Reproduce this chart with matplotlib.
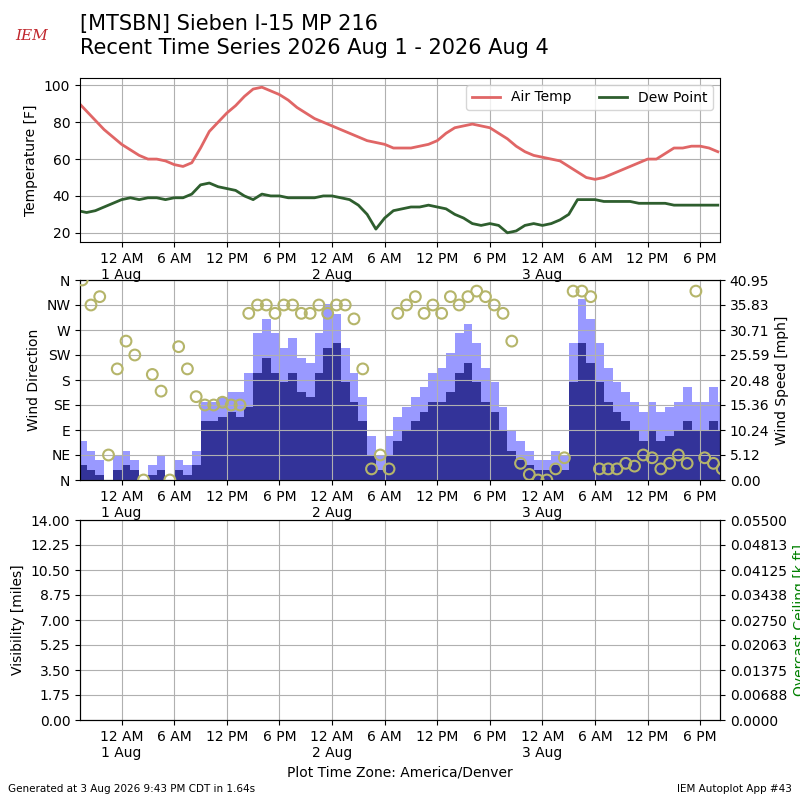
import matplotlib
matplotlib.use("Agg")
import matplotlib.pyplot as plt
import matplotlib.dates as mdates
import numpy as np
import pandas as pd

# hourly observations starting 31 Jul 19:00 (America/Denver)
start = "2026-07-31 19:00"
air_temp = [91, 86, 81, 76, 72, 68, 65, 62, 60, 60, 59, 57, 56, 58, 66, 75, 80, 85, 89, 94,
            98, 99, 97, 95, 92, 88, 85, 82, 80, 78, 76, 74, 72, 70, 69, 68, 66, 66, 66, 67,
            68, 70, 74, 77, 78, 79, 78, 77, 74, 71, 67, 64, 62, 61, 60, 59, 56, 53, 50, 49,
            50, 52, 54, 56, 58, 60, 60, 63, 66, 66, 67, 67, 66, 64]
dew_point = [32, 31, 32, 34, 36, 38, 39, 38, 39, 39, 38, 39, 39, 41, 46, 47, 45, 44, 43, 40,
             38, 41, 40, 40, 39, 39, 39, 39, 40, 40, 39, 38, 35, 30, 22, 28, 32, 33, 34, 34,
             35, 34, 33, 30, 28, 25, 24, 25, 24, 20, 21, 24, 25, 24, 25, 27, 30, 38, 38, 38,
             37, 37, 37, 37, 36, 36, 36, 36, 35, 35, 35, 35, 35, 35]
wind_speed = [3, 2, 1, 0, 2, 3, 2, 0, 1, 2, 0, 2, 1, 3, 12, 12, 13, 14, 13, 15,
              22, 25, 22, 20, 22, 18, 17, 22, 27, 28, 20, 16, 12, 5, 2, 5, 8, 10, 12, 14,
              16, 16, 18, 22, 24, 20, 16, 14, 10, 6, 4, 3, 2, 2, 3, 2, 20, 28, 24, 20,
              16, 14, 12, 10, 8, 10, 8, 9, 10, 12, 10, 10, 12, 10]
wind_gust = [8, 6, 4, 0, 5, 6, 4, 0, 3, 5, 0, 4, 3, 6, 16, 16, 17, 18, 18, 22,
             30, 33, 30, 27, 29, 25, 24, 30, 36, 34, 27, 22, 17, 9, 5, 9, 13, 15, 17, 19,
             22, 23, 26, 30, 32, 28, 23, 20, 15, 10, 8, 6, 4, 4, 6, 5, 28, 37, 33, 28,
             23, 20, 18, 16, 14, 16, 14, 15, 16, 19, 16, 16, 19, 16]
wind_dir = [360, 315, 330, 45, 200, 250, 225, 0, 190, 160, 0, 240, 200, 150, 135, 135, 140, 135, 135, 300,
            315, 315, 300, 315, 315, 300, 300, 315, 300, 315, 315, 290, 200, 20, 45, 20, 300, 315, 330, 300,
            315, 300, 330, 315, 330, 340, 330, 315, 300, 250, 30, 10, 0, 0, 20, 40, 340, 340, 330, 20,
            20, 20, 30, 25, 45, 40, 20, 30, 45, 30, 340, 40, 30, 20]

times = pd.date_range(start, periods=len(air_temp), freq="h")
t0 = pd.Timestamp("2026-07-31 19:15")
t1 = pd.Timestamp("2026-08-03 20:15")

fig = plt.figure(figsize=(8, 8), dpi=100)
fig.text(0.10, 0.955, "[MTSBN] Sieben I-15 MP 216\nRecent Time Series 2026 Aug 1 - 2026 Aug 4",
         fontsize=15, va="center", ha="left")
fig.text(0.04, 0.955, "IEM", color="#c0272d", fontsize=11, fontstyle="italic",
         ha="center", va="center", family="serif")
fig.text(0.01, 0.01, "Generated at 3 Aug 2026 9:43 PM CDT in 1.64s", fontsize=7.5)
fig.text(0.99, 0.01, "IEM Autoplot App #43", fontsize=7.5, ha="right")


def fmt_time(x, pos=None):
    d = mdates.num2date(x)
    if d.hour == 0:
        return "12 AM\n" + f"{d.day} Aug"
    h = d.hour % 12 or 12
    return f"{h} {'AM' if d.hour < 12 else 'PM'}"


def style_time(ax):
    ax.set_xlim(t0, t1)
    ax.xaxis.set_major_locator(mdates.HourLocator(byhour=[0, 6, 12, 18]))
    ax.xaxis.set_major_formatter(plt.FuncFormatter(fmt_time))
    ax.grid(True)
    ax.tick_params(labelsize=10)


ax1 = fig.add_axes([0.10, 0.6975, 0.80, 0.205])
ax1.plot(times, air_temp, color="#e06666", lw=2, label="Air Temp")
ax1.plot(times, dew_point, color="#2e5e2e", lw=2, label="Dew Point")
ax1.set_ylim(15, 104)
ax1.set_yticks([20, 40, 60, 80, 100])
ax1.set_ylabel("Temperature [F]")
ax1.legend(loc="upper right", ncol=2, fontsize=10)
style_time(ax1)

ax2 = fig.add_axes([0.10, 0.40, 0.80, 0.25])
ax2r = ax2.twinx()
ax2r.bar(times, wind_gust, width=1 / 24, color="#9999ff", align="edge")
ax2r.bar(times, wind_speed, width=1 / 24, color="#333399", align="edge")
ax2r.set_ylim(0, 40.95)
ax2r.set_yticks(np.linspace(0, 40.95, 9))
ax2r.set_yticklabels([f"{v:.2f}" for v in np.linspace(0, 40.95, 9)])
ax2r.set_ylabel("Wind Speed [mph]")
ax2.set_zorder(ax2r.get_zorder() + 1)
ax2.patch.set_visible(False)
ax2.scatter(times + pd.Timedelta(minutes=30), wind_dir, s=60, facecolors="none",
            edgecolors="#b5b56a", linewidths=1.5, zorder=3)
ax2.set_ylim(0, 360)
ax2.set_yticks(range(0, 361, 45))
ax2.set_yticklabels(["N", "NE", "E", "SE", "S", "SW", "W", "NW", "N"])
ax2.set_ylabel("Wind Direction")
style_time(ax2)

ax3 = fig.add_axes([0.10, 0.10, 0.80, 0.25])
ax3.set_ylim(0, 14)
ax3.set_yticks(np.linspace(0, 14, 9))
ax3.set_yticklabels([f"{v:.2f}" for v in np.linspace(0, 14, 9)])
ax3.set_ylabel("Visibility [miles]")
ax3.set_xlabel("Plot Time Zone: America/Denver")
style_time(ax3)
ax3r = ax3.twinx()
ax3r.set_ylim(0, 0.055)
ax3r.set_yticks(np.linspace(0, 0.055, 9))
ax3r.set_yticklabels(["0.0000", "0.00688", "0.01375", "0.02063", "0.02750",
                      "0.03438", "0.04125", "0.04813", "0.05500"])
ax3r.set_ylabel("Overcast Ceiling [k ft]", color="green")

fig.savefig("out.png", dpi=100)
